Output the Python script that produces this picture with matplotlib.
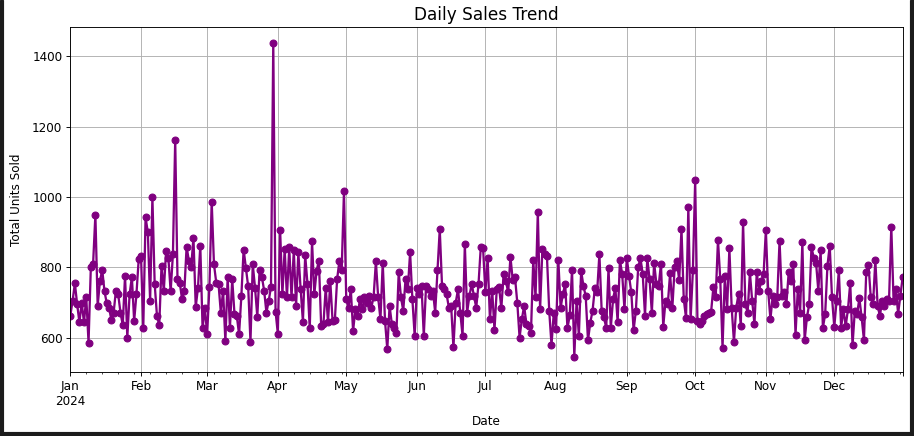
import numpy as np
import pandas as pd
import matplotlib
matplotlib.use("Agg")
import matplotlib.pyplot as plt
from matplotlib.patches import Rectangle

# daily totals
jan = [663, 705, 755, 696, 644, 700, 644, 715, 587, 800, 811, 950, 691, 762, 793, 732,
       698, 686, 651, 672, 734, 724, 672, 637, 776, 601, 724, 773, 648, 724, 824]
feb = [833, 629, 942, 900, 705, 999, 753, 663, 636, 805, 734, 847, 828, 732, 838, 1162,
       767, 757, 710, 732, 859, 819, 800, 885, 688, 743, 862, 627, 686]
mar = [610, 745, 987, 809, 757, 753, 672, 734, 591, 772, 629, 767, 667, 663, 610, 718,
       851, 798, 746, 589, 809, 743, 660, 792, 774, 734, 672, 705, 745, 1438, 675]
apr = [612, 907, 724, 852, 715, 857, 715, 849, 691, 843, 738, 646, 835, 753, 627, 874,
       724, 791, 819, 634, 639, 743, 644, 762, 648, 650, 767, 819, 792, 1016]
may = [710, 686, 738, 620, 681, 663, 710, 681, 715, 700, 719, 686, 717, 817, 715, 653,
       814, 648, 568, 691, 639, 629, 615, 786, 715, 677, 767, 738, 843, 710, 606]
jun = [743, 724, 748, 606, 748, 738, 719, 734, 672, 792, 909, 748, 738, 724, 686, 691,
       573, 700, 738, 672, 606, 866, 672, 719, 753, 719, 686, 753, 859, 855]
jul = [729, 828, 653, 734, 622, 738, 745, 684, 781, 762, 729, 830, 764, 772, 700, 601,
       653, 691, 639, 634, 615, 821, 715, 958, 681, 852, 838, 833, 677, 580, 672]
aug = [625, 821, 686, 724, 753, 627, 665, 793, 547, 705, 606, 790, 748, 719, 593, 643,
       677, 741, 729, 838, 677, 658, 629, 798, 629, 710, 743, 645, 821, 781, 681]
sep = [828, 776, 729, 622, 677, 800, 827, 781, 663, 827, 767, 672, 814, 753, 748, 811,
       632, 705, 696, 783, 686, 800, 817, 764, 909, 710, 656, 971, 653, 792]
oct_ = [1047, 648, 639, 648, 663, 667, 672, 675, 745, 715, 878, 767, 572, 776, 681, 854,
        686, 589, 686, 724, 634, 928, 696, 672, 786, 705, 639, 786, 734, 762, 781]
nov = [906, 734, 653, 719, 696, 715, 876, 719, 729, 696, 786, 762, 811, 609, 738, 672,
       871, 593, 658, 696, 857, 828, 814, 734, 849, 629, 667, 805, 862, 715]
dec = [631, 705, 792, 629, 681, 634, 681, 757, 579, 677, 667, 713, 658, 594, 786, 808,
       715, 696, 821, 691, 663, 705, 690, 710, 705, 916, 705, 738, 669, 720, 773]

units = jan + feb + mar + apr + may + jun + jul + aug + sep + oct_ + nov + dec
dates = pd.date_range("2024-01-01", periods=len(units), freq="D")
sales = pd.Series(units, index=dates)

plt.rcParams['font.size'] = 10.5

dpi = 82
W, H = 914, 436
fig = plt.figure(figsize=(W / dpi, H / dpi), dpi=dpi)
ax = fig.add_axes([70.3 / W, 1 - 372.3 / H, (902.7 - 70.3) / W, (372.3 - 27) / H])

sales.plot(ax=ax, marker='o', color='purple', linewidth=2, markersize=6)
ax.set_title('Daily Sales Trend', fontsize=14.8)
ax.set_xlabel('Date', labelpad=6)
ax.set_ylabel('Total Units Sold', labelpad=8)
ax.grid(True)

# dark screenshot frame around the figure
for x, y, w, h in [(0, 0, 3 / W, 1), (910 / W, 0, 4 / W, 1), (0, 0, 1, 4 / H)]:
    fig.add_artist(Rectangle((x, y), w, h, transform=fig.transFigure,
                             color='#1c1c1c', zorder=10))

fig.savefig('out.png', dpi=dpi)
